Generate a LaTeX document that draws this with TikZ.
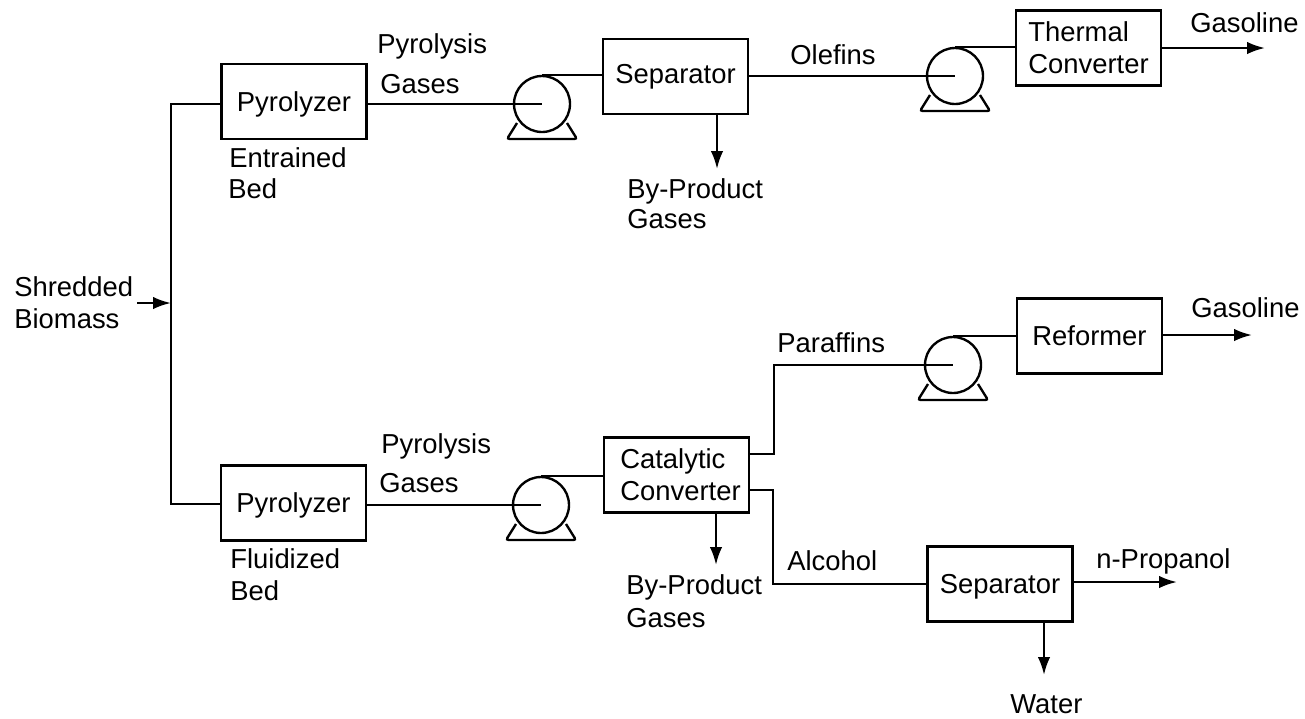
\documentclass[tikz,border=0pt]{standalone}
\usepackage{fontspec}
\setmainfont{Liberation Sans}
\usetikzlibrary{arrows.meta}
\tikzset{
  flowline/.style={line width=1.35pt},
  outflow/.style={flowline,-{Latex[length=.36cm,width=.25cm]}},
  unitbox/.style={draw,line width=1.35pt,align=left,inner sep=0pt,minimum width=2.9cm,minimum height=1.5cm},
  lowtext/.style={text depth=0pt},
  pumpwheel/.style={draw,line width=1.35pt,circle,inner sep=0pt,minimum size=1.12cm},
  tag/.style={anchor=base west,inner sep=0pt},
  every node/.style={font=\fontsize{15.6}{18}\selectfont}
}
\begin{document}
\begin{tikzpicture}[x=.02cm,y=-.02cm]
\useasboundingbox (0,0) rectangle (1305,718);
% process units
\node[unitbox,lowtext] (pyro1) at (294,101.5) {Pyrolyzer};
\node[unitbox] (sep1) at (675.5,76.5) {Separator};
\node[unitbox] (thermal) at (1088.5,48) {Thermal\\Converter};
\node[unitbox] (reformer) at (1089.5,336) {Reformer};
\node[unitbox,lowtext] (pyro2) at (293.5,503) {Pyrolyzer};
\node[unitbox] (cat) at (676.5,475) {\hspace*{.16cm}Catalytic\\\hspace*{.16cm}Converter};
\node[unitbox,lowtext] (sep2) at (1000,584) {Separator};
% pumps, each on its base
\foreach \n/\x/\y in {pump1/542/104,pump2/955/76,pump3/541/505,pump4/953/365}{
  \node[pumpwheel] (\n) at (\x,\y) {};
  \draw[flowline,rounded corners=.05cm,shift={(\x,\y)}] (-25,19)--(-35,35)--(35,35)--(25,19);
}
% free ends
\coordinate (feed) at (137,303);
\coordinate (join) at (171,303);
\coordinate (bustop) at (171,104);
\coordinate (busbot) at (171,504);
\coordinate (gas1) at (1265,48);
\coordinate (gas2) at (1252,335);
\coordinate (parbend) at (774,365);
\coordinate (alcbend) at (773,584);
\coordinate (propanol) at (1177,582);
\coordinate (byprod1) at (717,169);
\coordinate (byprod2) at (716,565);
\coordinate (waterend) at (1044,675);
% connectors
\draw[outflow] (feed)--(join);
\draw[flowline] (pyro1.west |- bustop)--(bustop)--(busbot)--(pyro2.west |- busbot);
\draw[flowline] (pyro1.east |- pump1.center)--(pump1.center);
\draw[flowline] (pump1.north)--(sep1.west |- pump1.north);
\draw[flowline] (sep1.east |- pump2.center)--(pump2.center);
\draw[flowline] (pump2.north)--(thermal.west |- pump2.north);
\draw[outflow] (thermal.east |- gas1)--(gas1);
\draw[outflow] (sep1.south -| byprod1)--(byprod1);
\draw[flowline] (pyro2.east |- pump3.center)--(pump3.center);
\draw[flowline] (pump3.north)--(cat.west |- pump3.north);
\draw[outflow] (cat.south -| byprod2)--(byprod2);
\draw[flowline] ([yshift=.42cm]cat.east) -| (parbend)--(pump4.center);
\draw[flowline] (pump4.north)--(reformer.west |- pump4.north);
\draw[outflow] (reformer.east |- gas2)--(gas2);
\draw[flowline] ([yshift=-.3cm]cat.east) -| (alcbend)--(sep2.west);
\draw[outflow] (sep2.east |- propanol)--(propanol);
\draw[outflow] (sep2.south -| waterend)--(waterend);
% labels
\node[tag] (l1) at (14,296) {Shredded};
\node[tag] (l2) at (14,328) {Biomass};
\node[tag] (l3) at (377,53) {Pyrolysis};
\node[tag] (l4) at (380,93) {Gases};
\node[tag] (l5) at (229,167) {Entrained};
\node[tag] (l6) at (228,198) {Bed};
\node[tag] (l7) at (790,64) {Olefins};
\node[tag] (l8) at (627,198) {By-Product};
\node[tag] (l9) at (627,228) {Gases};
\node[tag] (l10) at (1190,32) {Gasoline};
\node[tag] (l11) at (1191,317) {Gasoline};
\node[tag] (l12) at (777,352) {Paraffins};
\node[tag] (l13) at (381,453) {Pyrolysis};
\node[tag] (l14) at (379,492) {Gases};
\node[tag] (l15) at (230,568) {Fluidized};
\node[tag] (l16) at (230,600) {Bed};
\node[tag] (l17) at (626,594) {By-Product};
\node[tag] (l18) at (626,627) {Gases};
\node[tag] (l19) at (787,570) {Alcohol};
\node[tag] (l20) at (1096,568) {n-Propanol};
\node[tag] (l21) at (1010,713) {Water};
\end{tikzpicture}
\end{document}
